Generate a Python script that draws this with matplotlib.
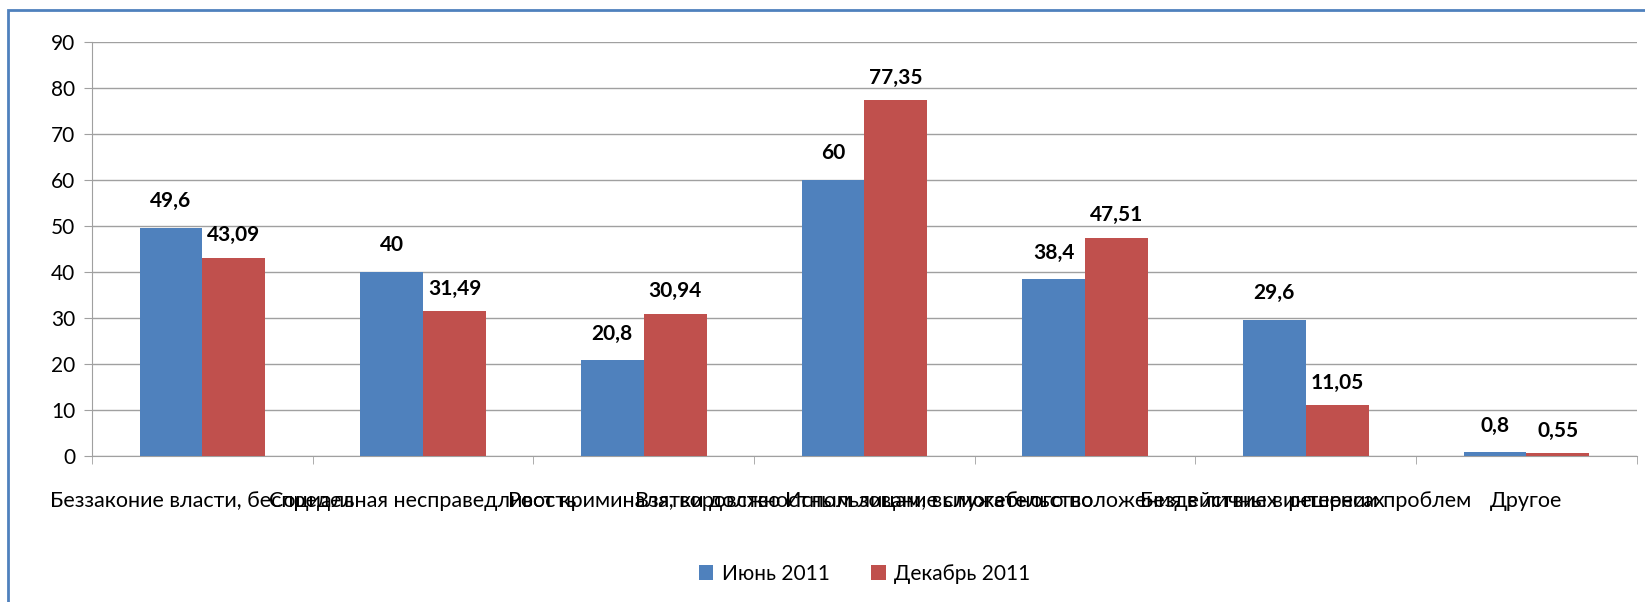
import matplotlib.pyplot as plt
import numpy as np
from matplotlib.patches import Rectangle

plt.rcParams['font.family'] = ['Lato', 'DejaVu Sans']

categories = ['Беззаконие власти, беспредел',
              'Социальная несправедливость',
              'Рост криминала, воровство',
              'Взятки должностным лицам, вымогательство',
              'Использование служебного положения в личных интересах',
              'Бездействие в решении проблем',
              'Другое']
june = [49.6, 40, 20.8, 60, 38.4, 29.6, 0.8]
december = [43.09, 31.49, 30.94, 77.35, 47.51, 11.05, 0.55]
series_names = ['Июнь 2011', 'Декабрь 2011']

blue = '#4F81BD'
red = '#C0504D'
grid_col = '#A0A0A0'

fig = plt.figure(figsize=(16.45, 6.02), dpi=100)
ax = fig.add_axes([0.056, 0.2425, 0.939, 0.6875])

# chart frame
fig.patches.append(Rectangle((0.005, -0.05), 1.2, 1.033, transform=fig.transFigure,
                             fill=False, edgecolor='#4F81BD', linewidth=2.0))

x = np.arange(len(categories))
w = 0.285
b1 = ax.bar(x - w / 2, june, w, color=blue, label=series_names[0], zorder=3)
b2 = ax.bar(x + w / 2, december, w, color=red, label=series_names[1], zorder=3)

def fmt(v):
    return ('%g' % v).replace('.', ',')

for bars, vals, dy in [(b1, june, 12), (b2, december, 9)]:
    for bar, v in zip(bars, vals):
        ax.annotate(fmt(v), (bar.get_x() + bar.get_width() / 2, bar.get_height()),
                    xytext=(0, dy), textcoords='offset points', ha='center', va='bottom',
                    fontsize=15, fontweight='bold', color='black')

ax.set_ylim(0, 90)
ax.set_yticks(np.arange(0, 91, 10))
ax.set_xlim(-0.5, len(categories) - 0.5)
ax.yaxis.grid(True, color=grid_col, linewidth=1.0, zorder=0)
ax.set_axisbelow(True)

ax.set_xticks(x)
ax.set_xticklabels(categories, fontsize=15.5)
ax.tick_params(axis='x', length=0, pad=25)
ax.set_xticks(np.arange(-0.5, len(categories), 1), minor=True)
ax.tick_params(axis='x', which='minor', length=6, color=grid_col)
ax.tick_params(axis='y', labelsize=15, length=6, color=grid_col, pad=6)

for s in ['top', 'right']:
    ax.spines[s].set_visible(False)
for s in ['left', 'bottom']:
    ax.spines[s].set_color(grid_col)

ax.legend(loc='upper center', bbox_to_anchor=(0.5, -0.215), ncol=2, frameon=False,
          fontsize=15, handlelength=0.7, handleheight=0.7, columnspacing=2.0,
          handletextpad=0.4)

fig.savefig('out.png', dpi=100)
